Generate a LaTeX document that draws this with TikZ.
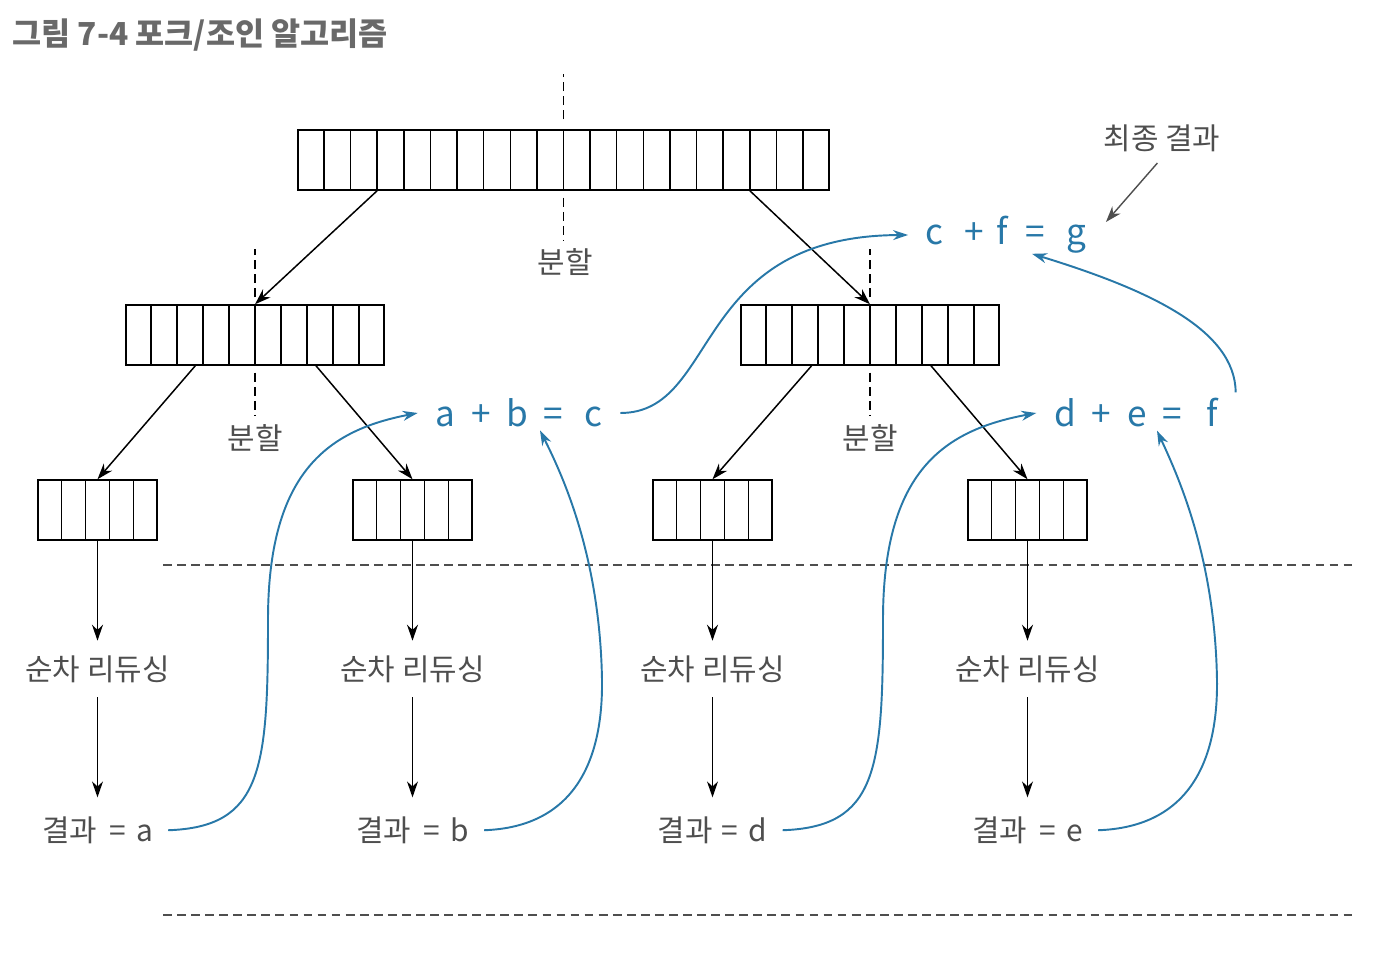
\documentclass[tikz,border=0pt]{standalone}
\usepackage{fontspec}
\setmainfont{Noto Sans CJK KR}
\usetikzlibrary{positioning,calc,arrows.meta}
\definecolor{sumblue}{RGB}{40,120,168}
\definecolor{txtgray}{RGB}{78,78,78}
\definecolor{ttlgray}{RGB}{105,105,105}

\begin{document}
\begin{tikzpicture}[x=0.02cm, y=-0.02cm,
    arr/.style = {draw, line width=0.85pt, minimum height=1.2cm, inner sep=0},
    lbl/.style = {text=txtgray, font=\fontsize{17}{19}\selectfont},
    seq/.style = {lbl, minimum height=1.12cm},
    res/.style = {lbl, minimum height=1.3cm, inner xsep=0.3cm},
    sum/.style = {text=sumblue, font=\fontsize{20}{22}\selectfont, inner xsep=0.35cm},
    go/.style = {-{Stealth[length=3.2mm,width=2.2mm]}, line width=0.85pt},
    flow/.style = {draw=sumblue, -{Stealth[length=3mm,width=2mm]}, line width=1.1pt},
    split/.style = {dashed, dash pattern=on 5pt off 3pt, line width=0.8pt},
    node distance = 2cm]
\useasboundingbox (0,0) rectangle (1373,969);

\node[font=\bfseries\fontsize{18}{20}\selectfont, text=ttlgray, anchor=west, inner sep=0] (ttl) at (12,35) {그림 7-4 포크/조인 알고리즘};

\node[arr, minimum width=10.62cm] (top) at (563.5,160) {};
\node[arr, minimum width=5.16cm] (m1) at (255,335) {};
\node[arr, minimum width=5.16cm] (m2) at (870,335) {};
\node[arr, minimum width=2.38cm] (s1) at (97.5,510) {};
\node[arr, minimum width=2.38cm] (s2) at (412.5,510) {};
\node[arr, minimum width=2.38cm] (s3) at (712.5,510) {};
\node[arr, minimum width=2.38cm] (s4) at (1027.5,510) {};
\foreach \a/\n in {top/20,m1/10,m2/10,s1/5,s2/5,s3/5,s4/5}{
  \pgfmathtruncatemacro\k{\n-1}
  \foreach \i in {1,...,\k}
    \draw[line width=0.85pt] ($(\a.south west)!\i/\n!(\a.south east)$) -- ($(\a.north west)!\i/\n!(\a.north east)$);
}

\draw[split] (top.north) ++(0,-10) -- ++(0,-45);
\draw[split] (top.south) ++(0,7) -- ++(0,43);
\node[lbl] (d0) at (565,262) {분할};
\draw[split] (m1.north) ++(0,-7) -- ++(0,-48);
\draw[split] (m1.south) ++(0,7) -- ++(0,43);
\node[lbl] (d1) at (255,438) {분할};
\draw[split] (m2.north) ++(0,-7) -- ++(0,-48);
\draw[split] (m2.south) ++(0,7) -- ++(0,43);
\node[lbl] (d2) at (870,438) {분할};

\draw[split, draw=txtgray] (163,565) -- (1357,565);
\draw[split, draw=txtgray] (163,915) -- (1357,915);

\draw[go] ($(top.south west)!3/20!(top.south east)$) -- (m1.north);
\draw[go] ($(top.south west)!17/20!(top.south east)$) -- (m2.north);
\draw[go] ($(m1.south west)!.27!(m1.south east)$) -- (s1.north);
\draw[go] ($(m1.south west)!.735!(m1.south east)$) -- (s2.north);
\draw[go] ($(m2.south west)!.275!(m2.south east)$) -- (s3.north);
\draw[go] ($(m2.south west)!.735!(m2.south east)$) -- (s4.north);

\node[seq] (q1) [below=of s1] {순차 리듀싱};
\node[seq] (q2) [below=of s2] {순차 리듀싱};
\node[seq] (q3) [below=of s3] {순차 리듀싱};
\node[seq] (q4) [below=of s4] {순차 리듀싱};
\node[res] (k1) [below=of q1] {결과\hspace{.4em}=\hspace{.35em}a};
\node[res] (k2) [below=of q2] {결과\hspace{.4em}=\hspace{.35em}b};
\node[res] (k3) [below=of q3] {결과\hspace{.3em}=\hspace{.35em}d};
\node[res] (k4) [below=of q4] {결과\hspace{.4em}=\hspace{.35em}e};
\foreach \i in {1,...,4}{
  \draw[go] (s\i) -- (q\i);
  \draw[go] (q\i) -- (k\i);
}

\node[sum] (sab) at (519,413) {a\hspace{.45em}+\hspace{.45em}b\hspace{.45em}=\hspace{.6em}c};
\node[sum] (sde) at (1136,413) {d\hspace{.45em}+\hspace{.45em}e\hspace{.45em}=\hspace{.7em}f};
\node[sum] (scfg) at (1006,235) {c\hspace{.6em}+\hspace{.35em}f\hspace{.5em}=\hspace{.6em}g};
\node[lbl] (fin) at (1162,138) {최종 결과};

\draw[flow] (k1.east) .. controls (262,827) and (268,770) .. (268,620) .. controls (268,470) and (330,430) .. (sab.west);
\draw[flow] (k2.east) .. controls (575,827) and (603,760) .. (602,680) .. controls (600,560) and (565,480) .. ($(sab.south)+(21,-3)$);
\draw[flow] (sab.east) .. controls (720,413) and (690,236) .. (scfg.west);
\draw[flow] (k3.east) .. controls (877,827) and (883,770) .. (883,620) .. controls (883,470) and (945,430) .. (sde.west);
\draw[flow] (k4.east) .. controls (1190,827) and (1218,760) .. (1217,680) .. controls (1215,560) and (1180,480) .. ($(sde.south)+(21,-3)$);
\draw[flow] (sde.north east) .. controls (1235,330) and (1150,290) .. ($(scfg.south)+(26,-6)$);
\draw[go, draw=txtgray, line width=0.8pt, shorten <=4pt] (fin.south) -- ($(scfg.east)+(2,-13)$);
\end{tikzpicture}
\end{document}
